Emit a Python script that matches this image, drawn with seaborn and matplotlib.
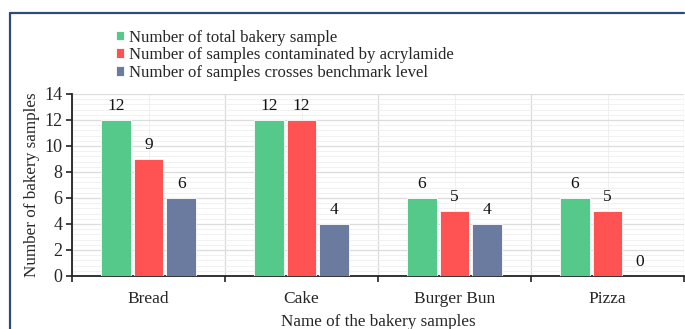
import matplotlib
matplotlib.use("Agg")
import matplotlib.pyplot as plt
from matplotlib.lines import Line2D
from matplotlib.ticker import MultipleLocator, FixedLocator
import seaborn as sns
import pandas as pd

categories = ["Bread", "Cake", "Burger Bun", "Pizza"]
total_samples = [12, 12, 6, 6]
contaminated = [9, 12, 5, 5]
above_benchmark = [6, 4, 4, 0]
series_names = [
    "Number of total bakery sample",
    "Number of samples contaminated by acrylamide",
    "Number of samples crosses benchmark level",
]
colors = ["#55C98A", "#FF5252", "#6B7BA0"]

rows = []
for name, vals in zip(series_names, [total_samples, contaminated, above_benchmark]):
    for cat, v in zip(categories, vals):
        rows.append({"Category": cat, "Series": name, "Value": v})
df = pd.DataFrame(rows)

sns.set_theme(style="white")
plt.rcParams["font.family"] = ["Liberation Serif", "DejaVu Serif"]

W, H = 685, 329
fig = plt.figure(figsize=(W / 100, H / 100), dpi=100)
ax = fig.add_axes([72 / W, 1 - 276 / H, (684 - 72) / W, (276 - 94) / H])

sns.barplot(data=df, x="Category", y="Value", hue="Series", order=categories,
            hue_order=series_names, palette=colors, width=0.64, gap=0.1,
            saturation=1, edgecolor="white", linewidth=0.6, ax=ax, legend=True, zorder=3)

for container in ax.containers:
    ax.bar_label(container, fmt="%d", padding=4, fontsize=12.5, color="#111111")

ax.set_ylim(0, 14)
ax.set_xlim(-0.5, len(categories) - 0.5)
ax.yaxis.set_major_locator(MultipleLocator(2))
ax.yaxis.set_minor_locator(MultipleLocator(0.4))
ax.xaxis.set_minor_locator(FixedLocator([i + 0.5 for i in range(-1, len(categories))]))

ax.grid(which="major", axis="y", color="#DCDCDC", linewidth=0.9, zorder=0)
ax.grid(which="minor", axis="y", color="#EFEFEF", linewidth=0.6, zorder=0)
ax.grid(which="major", axis="x", color="#F0F0F0", linewidth=0.8, zorder=0)
ax.grid(which="minor", axis="x", color="#DCDCDC", linewidth=0.9, zorder=0)
ax.set_axisbelow(True)

for side in ["top", "right"]:
    ax.spines[side].set_visible(False)
for side in ["left", "bottom"]:
    ax.spines[side].set_color("#222222")
    ax.spines[side].set_linewidth(1.3)

ax.tick_params(axis="y", which="major", direction="out", length=4, width=1.2,
               color="#222222", labelsize=13, pad=3, left=True)
ax.tick_params(axis="y", which="minor", length=0)
ax.tick_params(axis="x", which="major", length=0, labelsize=12.5, pad=11)
ax.tick_params(axis="x", which="minor", direction="out", length=4, width=1.2,
               color="#222222", bottom=True)

ax.set_xlabel("Name of the bakery samples", fontsize=12.3, labelpad=5)
ax.set_ylabel("Number of bakery samples", fontsize=12.3, labelpad=3)

handles, labels = ax.get_legend_handles_labels()
ax.get_legend().remove()
fig.legend(handles, labels, loc="upper left", bbox_to_anchor=(116 / W, 1 - 29.5 / H),
           frameon=False, fontsize=12.1, handlelength=0.5, handleheight=0.5,
           handletextpad=0.3, labelspacing=0.1, borderaxespad=0, borderpad=0)

# framing border on the left and top
border = "#2E4A7D"
fig.add_artist(Line2D([10 / W, 10 / W], [0, 1 - 13 / H], color=border, lw=1.6,
                      transform=fig.transFigure))
fig.add_artist(Line2D([10 / W, 684 / W], [1 - 13 / H, 1 - 13 / H], color=border, lw=1.6,
                      transform=fig.transFigure))

fig.savefig("out.png", dpi=100)
